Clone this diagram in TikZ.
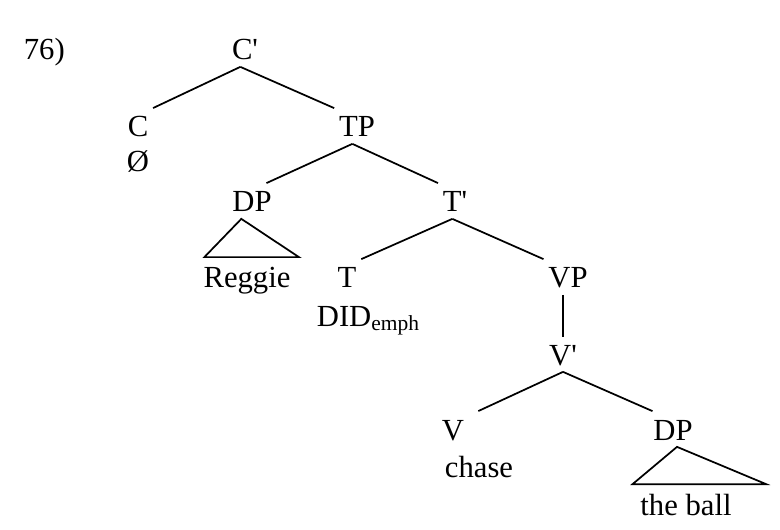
\documentclass[tikz,border=0pt]{standalone}
\usepackage{fontspec}
\setmainfont{Liberation Serif}

\tikzset{every picture/.style={line width=1.3pt}}
\tikzset{cat/.style={font=\fontsize{23}{27}\selectfont, anchor=base, inner xsep=0.75pt, inner ysep=4.5pt, text height=15.5pt, text depth=0pt},
         word/.style={cat, inner ysep=7pt}}

\begin{document}
\begin{tikzpicture}[x=0.75pt,y=0.75pt,yscale=-1,xscale=1]
\useasboundingbox (0,0) rectangle (780,530);

% Text Node
\node [cat, anchor=base west] (num) at (22,60) {76)};
% Text Node
\node [cat] (Cbar) at (245,60) {C\textquotesingle};
% Text Node
\node [cat] (C) at (138,137) {C};
% Text Node
\node [cat] (Cnull) at (138,172) {Ø};
% Text Node
\node [cat] (TP) at (357,137) {TP};
% Text Node
\node [cat] (DPsubj) at (252,212) {DP};
% Text Node
\node [cat] (Tbar) at (455,212) {T\textquotesingle};
% Text Node
\node [word] (Reggie) at (247,288) {Reggie};
% Text Node
\node [cat] (T) at (347,288) {T};
% Text Node
\node [cat, anchor=base west] (did) at (315,326) {DID\textsubscript{emph}};
% Text Node
\node [cat] (VP) at (568,288) {VP};
% Text Node
\node [cat] (Vbar) at (563,365) {V\textquotesingle};
% Text Node
\node [cat] (V) at (453,440) {V};
% Text Node
\node [cat] (chase) at (479,477) {chase};
% Text Node
\node [cat] (DPobj) at (673,440) {DP};
% Text Node
\node [word] (ball) at (686,515) {the ball};

%Straight Lines
\draw [shorten >=2.5pt] ([xshift=-3.5pt]Cbar.south) -- (C.north east);
\draw [shorten >=2.5pt] ([xshift=-3.5pt]Cbar.south) -- (TP.north west);
%Straight Lines
\draw [shorten >=2.5pt] ([xshift=-3.5pt]TP.south) -- ([xshift=-7.5pt]DPsubj.north east);
\draw [shorten >=2.5pt] ([xshift=-3.5pt]TP.south) -- (Tbar.north west);
%Straight Lines
\draw [shorten >=2.5pt] ([xshift=-2pt]Tbar.south) -- (T.north east);
\draw [shorten >=2.5pt] ([xshift=-2pt]Tbar.south) -- (VP.north west);
%Straight Lines
\draw (Vbar.north |- VP.south) -- (Vbar.north);
%Straight Lines
\draw [shorten >=2.5pt] (Vbar.south) -- ([xshift=7pt]V.north east);
\draw [shorten >=2.5pt] (Vbar.south) -- ([xshift=3pt]DPobj.north west);

%Shape: Triangle
\draw ([xshift=-8pt]DPsubj.south) -- ([xshift=2pt]Reggie.north west) -- ([xshift=5pt]Reggie.north east) -- cycle;
%Shape: Triangle
\draw ([xshift=3pt]DPobj.south) -- ([xshift=-4.5pt]ball.north west) -- ([xshift=24.5pt]ball.north east) -- cycle;

\end{tikzpicture}
\end{document}
